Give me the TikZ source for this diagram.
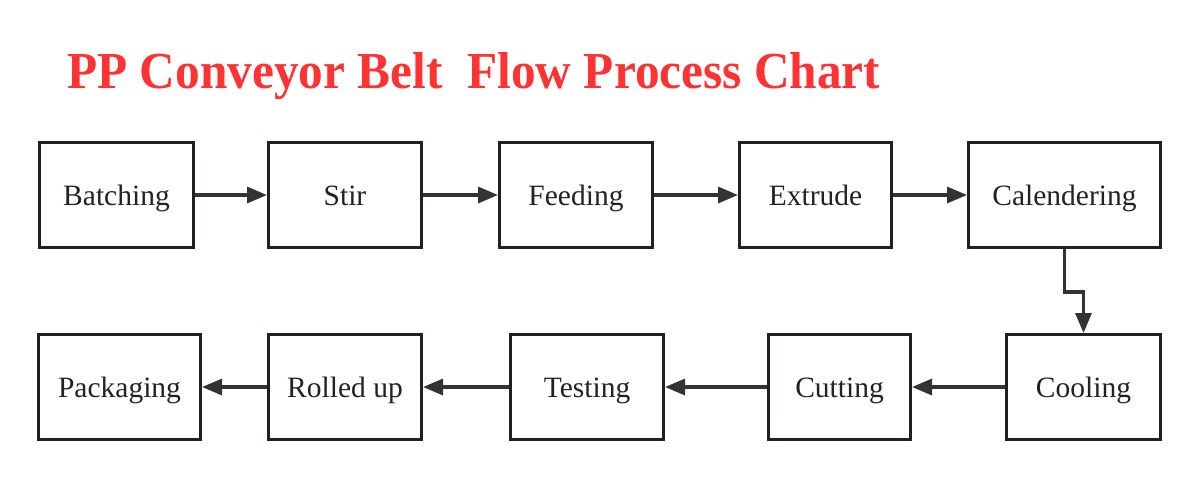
\documentclass[tikz,border=0pt]{standalone}
\usepackage{fontspec}
\setmainfont{Liberation Serif}
\usetikzlibrary{arrows.meta}
\definecolor{titlered}{RGB}{255,51,51}
\definecolor{boxline}{RGB}{30,34,38}
\definecolor{arrline}{RGB}{51,51,51}
\definecolor{txt}{RGB}{34,34,34}
\begin{document}
\begin{tikzpicture}[x=1pt,y=-1pt,
  proc/.style={draw=boxline, line width=3pt, fill=white, inner sep=0pt,
    minimum height=105pt, text height=27pt, text depth=7pt, text=txt,
    font=\fontsize{29.5}{34}\selectfont},
  arr/.style={draw=arrline, line width=3.2pt, -{Triangle[length=20pt,width=16pt]}}]
\useasboundingbox (0,0) rectangle (1200,480);
\fill[white] (0,0) rectangle (1200,480);
\node[anchor=base west, inner sep=0pt, text=titlered, font=\bfseries\fontsize{49}{56}\selectfont] (title) at (67,88)
  {\scalebox{1.007}[1.06]{PP Conveyor Belt\ \ Flow Process Chart}};
% row 1
\node[proc, minimum width=154pt] (bat) at (116.5,195) {Batching};
\node[proc, minimum width=153pt] (stir) at (345,195) {Stir};
\node[proc, minimum width=153pt] (feed) at (576,195) {Feeding};
\node[proc, minimum width=152pt] (ext) at (815.5,195) {Extrude};
\node[proc, minimum width=192pt] (cal) at (1064.5,195) {Calendering};
% row 2
\node[proc, minimum width=162pt] (pack) at (119.5,387) {Packaging};
\node[proc, minimum width=153pt] (roll) at (345,387) {Rolled up};
\node[proc, minimum width=153pt] (test) at (587,387) {Testing};
\node[proc, minimum width=142pt] (cut) at (839.5,387) {Cutting};
\node[proc, minimum width=154pt] (cool) at (1083.5,387) {Cooling};
% connectors
\draw[arr] (bat) -- (stir);
\draw[arr] (stir) -- (feed);
\draw[arr] (feed) -- (ext);
\draw[arr] (ext) -- (cal);
\draw[arr] (cal.south) -- ++(0,43) -| (cool.north);
\draw[arr] (cool) -- (cut);
\draw[arr] (cut) -- (test);
\draw[arr] (test) -- (roll);
\draw[arr] (roll) -- (pack);
\end{tikzpicture}
\end{document}
